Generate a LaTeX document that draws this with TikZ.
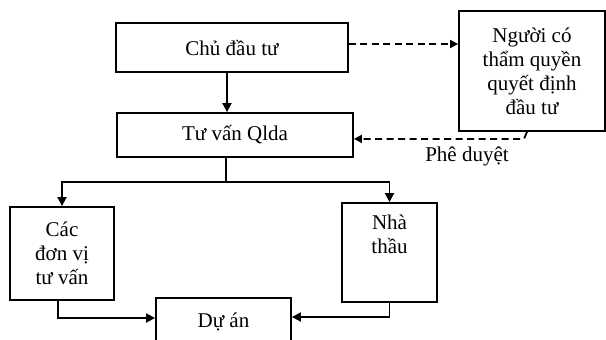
\documentclass[tikz,border=0pt]{standalone}
\usepackage{fontspec}
\setmainfont{Liberation Serif}
\usetikzlibrary{arrows.meta}
\begin{document}
\begin{tikzpicture}[x=1pt,y=-1pt,
  every node/.style={font=\fontsize{21}{24}\selectfont},
  box/.style={draw,line width=1.8pt,rectangle,inner sep=0pt,align=center},
  link/.style={line width=1.8pt},
  arr/.style={link,-{Triangle[length=9pt,width=9pt]}},
  dasharr/.style={link,dash pattern=on 7pt off 4.5pt,-{Triangle[length=8pt,width=8pt]}}]
\useasboundingbox (0,0) rectangle (606,340);
\begin{scope}
\clip (0,0) rectangle (606,340);
% boxes
\node[box,minimum width=232pt,minimum height=49pt] (chu) at (232,47.5) {Chủ đầu tư};
\node[box,minimum width=146pt,minimum height=120pt] (nguoi) at (532,71)
  {Người có\\thẩm quyền\\quyết định\\đầu tư};
\node[box,minimum width=236pt,minimum height=44pt] (tuvan) at (235,135) {Tư vấn Qlda};
\node[box,minimum width=104pt,minimum height=93pt] (cac) at (62,253.5)
  {Các\\đơn vị\\tư vấn};
\node[box,minimum width=95pt,minimum height=99pt] (nha) at (389.5,252.5) {};
\node[align=center,anchor=north,inner sep=0pt] (nhatext) at (389.5,215) {Nhà\\thầu};
\node[box,minimum width=135pt,minimum height=48pt] (duan) at (223.5,322) {Dự án};
% connectors
\draw[arr] ([xshift=-5pt]chu.south) -- ([xshift=-5pt]chu.south |- tuvan.north);
\draw[dasharr] ([yshift=3.5pt]chu.east) -- ([yshift=3.5pt]chu.east -| nguoi.west);
\draw[dasharr] ([xshift=-5pt]nguoi.south) -- ++(-3,7) coordinate (k) -- (k -| tuvan.east);
\node[inner sep=0pt] (pheduyet) at (467,156) {Phê duyệt};
\coordinate (split) at (226,182);
\draw[link] (split |- tuvan.south) -- (split);
\draw[arr] (split) -| (cac.north);
\draw[arr] (split) -| (nha.north);
\draw[arr] ([xshift=-4pt]cac.south) |- ([yshift=4pt]duan.west);
\draw[arr] (nha.south) |- ([yshift=5pt]duan.east);
\end{scope}
\end{tikzpicture}
\end{document}
